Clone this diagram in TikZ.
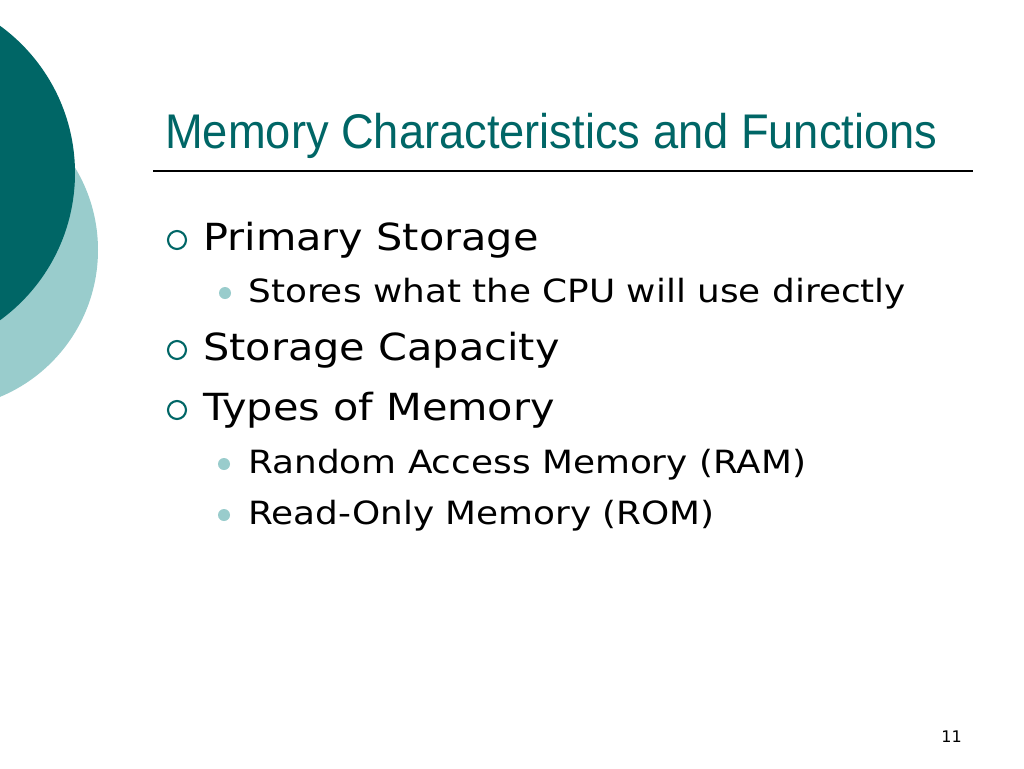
\documentclass[tikz,border=0pt]{standalone}
\usepackage{graphicx}
\usepackage{fontspec}
\setmainfont{DejaVu Sans}
\newfontfamily\titlefont{Liberation Sans}
\definecolor{darkteal}{HTML}{006666}
\definecolor{lightteal}{HTML}{99CCCC}
\newcommand\hstretch[2]{\scalebox{#1}[1]{#2}}
\begin{document}
\begin{tikzpicture}[x=0.75pt,y=-0.75pt,
  titletext/.style={anchor=base west,inner sep=0pt,text=darkteal,font=\titlefont\fontsize{36.5}{42}\selectfont},
  lvlone/.style={anchor=base west,inner sep=0pt,font=\fontsize{28}{34}\selectfont},
  lvltwo/.style={anchor=base west,inner sep=0pt,font=\fontsize{24}{29}\selectfont},
  ring/.style={circle,draw=darkteal,line width=1.6pt,minimum size=13.5pt,inner sep=0pt},
  dot/.style={circle,fill=lightteal,minimum size=9pt,inner sep=0pt}]
\useasboundingbox[fill=white] (0,0) rectangle (1024,768);
\fill[lightteal] (-61,250) circle[radius=159];
\fill[darkteal] (-107,173) circle[radius=182];
\node[titletext] (title) at (165,148) {\hstretch{0.93}{Memory Characteristics and Functions}};
\coordinate (rl) at (153,171);
\coordinate (rr) at (973,171);
\draw[line width=0.9pt] (rl) -- (rr);
\node[ring] (b1) at (177,240) {};
\node[lvlone] (t1) at (203,250) {\hstretch{1.11}{Primary Storage}};
\node[dot] (d1) at (225,293) {};
\node[lvltwo] (s1) at (248,302) {\hstretch{1.12}{Stores what the CPU will use directly}};
\node[ring] (b2) at (177,350) {};
\node[lvlone] (t2) at (203,360) {\hstretch{1.11}{Storage Capacity}};
\node[ring] (b3) at (177,410) {};
\node[lvlone] (t3) at (203,420) {\hstretch{1.11}{Types of Memory}};
\node[dot] (d2) at (224,464) {};
\node[lvltwo] (s2) at (248,473) {\hstretch{1.12}{Random Access Memory (RAM)}};
\node[dot] (d3) at (224,515) {};
\node[lvltwo] (s3) at (248,524) {\hstretch{1.12}{Read-Only Memory (ROM)}};
\node[anchor=base east,inner sep=0pt,font=\fontsize{12}{14}\selectfont] (pg) at (962,742) {11};
\end{tikzpicture}
\end{document}
